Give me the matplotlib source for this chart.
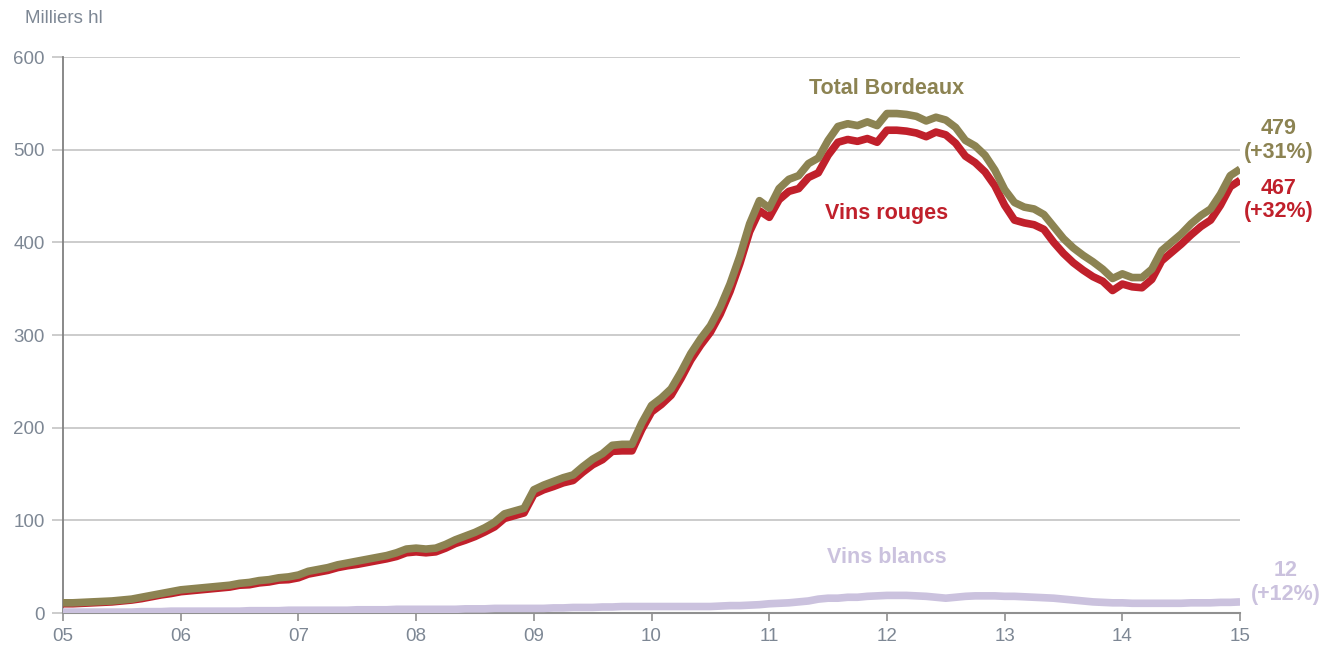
import numpy as np
import matplotlib.pyplot as plt

plt.rcParams['font.family'] = ['Liberation Sans', 'DejaVu Sans']

# Monthly volumes, Jan 2005 -> Jan 2015 (milliers hl)
total = [11, 11, 11.5, 12, 12.5, 13, 14, 15, 17, 19, 21, 23,
         25, 26, 27, 28, 29, 30, 32, 33, 35, 36, 38, 39,
         41, 45, 47, 49, 52, 54, 56, 58, 60, 62, 65, 69,
         70, 69, 70, 74, 79, 83, 87, 92, 98, 107, 110, 113,
         133, 138, 142, 146, 149, 158, 166, 172, 181, 182, 182, 205,
         224, 232, 242, 260, 280, 296, 310, 330, 355, 385, 420, 445,
         437, 458, 468, 472, 485, 491, 510, 525, 528, 526, 530, 526,
         539, 539, 538, 536, 531, 535, 532, 524, 510, 504, 494, 478,
         457, 443, 438, 436, 430, 417, 404, 394, 386, 379, 371, 361,
         366, 362, 362, 371, 391, 400, 409, 420, 429, 436, 452, 472,
         479]
rouges = [10, 10, 10.5, 11, 11.5, 12, 13, 14, 15.5, 17.5, 19.5, 21,
          23, 24, 25, 26, 27, 28, 30, 30.5, 32.5, 33.5, 35.5, 36,
          38, 42, 44, 46, 49, 51, 52.5, 54.5, 56.5, 58.5, 61, 65,
          66, 65, 66, 70, 75, 78.5, 82.5, 87.5, 93, 102, 105, 108,
          128, 133, 136.5, 140.5, 143, 152, 160, 165.5, 174.5, 175, 175, 198,
          217, 225, 235, 253, 273, 289, 303, 322.5, 347, 377, 411.5, 434,
          427, 446, 455, 458, 470, 475, 494, 508, 511, 509, 512, 508,
          521, 521, 520, 518, 514, 519, 516, 507, 493, 486, 476, 461,
          440, 424, 421, 419, 414, 400, 388, 378, 370, 363, 358, 348,
          355, 352, 351, 360, 380, 389, 398, 408, 417, 424, 440, 460,
          467]
blancs = [1, 1, 1, 1, 1, 1, 1, 1, 1.5, 1.5, 1.5, 2,
          2, 2, 2, 2, 2, 2, 2, 2.5, 2.5, 2.5, 2.5, 3,
          3, 3, 3, 3, 3, 3, 3.5, 3.5, 3.5, 3.5, 4, 4,
          4, 4, 4, 4, 4, 4.5, 4.5, 4.5, 5, 5, 5, 5,
          5, 5, 5.5, 5.5, 6, 6, 6, 6.5, 6.5, 7, 7, 7,
          7, 7, 7, 7, 7, 7, 7, 7.5, 8, 8, 8.5, 9,
          10, 10.5, 11, 12, 13, 15, 16, 16, 17, 17, 18, 18.5,
          19, 19, 19, 18.5, 18, 17, 16, 17, 18, 18.5, 18.5, 18.5,
          18, 18, 17.5, 17, 16.5, 16, 15, 14, 13, 12, 11.5, 11,
          11, 10.5, 10.5, 10.5, 10.5, 10.5, 10.5, 11, 11, 11, 11.5, 11.5,
          12]
years = ['05', '06', '07', '08', '09', '10', '11', '12', '13', '14', '15']

c_total = '#8c8352'
c_rouge = '#c0202b'
c_blanc = '#cbc2de'
c_tick = '#7d8794'

x = 5 + np.arange(len(total)) / 12

fig = plt.figure(figsize=(13.24, 6.5), dpi=100)
ax = fig.add_axes([0.0476, 0.0569, 0.8890, 0.8554])

ax.plot(x, blancs, color=c_blanc, lw=5.5, solid_capstyle='butt', zorder=3)
ax.plot(x, rouges, color=c_rouge, lw=5.5, solid_capstyle='butt', zorder=4)
ax.plot(x, total, color=c_total, lw=5.5, solid_capstyle='butt', zorder=5)

ax.set_xlim(5, 15)
ax.set_ylim(0, 600)
ax.set_yticks(range(0, 601, 100))
ax.set_xticks(range(5, 16))
ax.set_xticklabels(years)
ax.grid(axis='y', color='#c8c8c8', lw=1.3)
ax.set_axisbelow(True)

for s in ['top', 'right']:
    ax.spines[s].set_visible(False)
ax.spines['left'].set_color('#808080')
ax.spines['left'].set_linewidth(1.3)
ax.spines['bottom'].set_color('#909090')
ax.spines['bottom'].set_linewidth(1.5)
ax.tick_params(axis='y', length=8, color='#c8c8c8', width=1.3, labelsize=13.5,
               labelcolor=c_tick, pad=5)
ax.tick_params(axis='x', length=6, color='#909090', width=1.2, labelsize=13.5,
               labelcolor=c_tick, pad=5)

fig.text(0.019, 0.972, 'Milliers hl', fontsize=13.5, color=c_tick, ha='left', va='center')

ax.text(12.0, 566, 'Total Bordeaux', color=c_total, fontsize=15.5, fontweight='bold',
        ha='center', va='center')
ax.text(12.0, 431, 'Vins rouges', color=c_rouge, fontsize=15.5, fontweight='bold',
        ha='center', va='center')
ax.text(12.0, 60, 'Vins blancs', color=c_blanc, fontsize=15.5, fontweight='bold',
        ha='center', va='center')

ax.text(15.33, 510, '479\n(+31%)', color=c_total, fontsize=15.5, fontweight='bold',
        ha='center', va='center', clip_on=False, linespacing=1.15)
ax.text(15.33, 446, '467\n(+32%)', color=c_rouge, fontsize=15.5, fontweight='bold',
        ha='center', va='center', clip_on=False, linespacing=1.15)
ax.text(15.39, 33, '12\n(+12%)', color=c_blanc, fontsize=15.5, fontweight='bold',
        ha='center', va='center', clip_on=False, linespacing=1.15)

fig.savefig('out.png', dpi=100)
